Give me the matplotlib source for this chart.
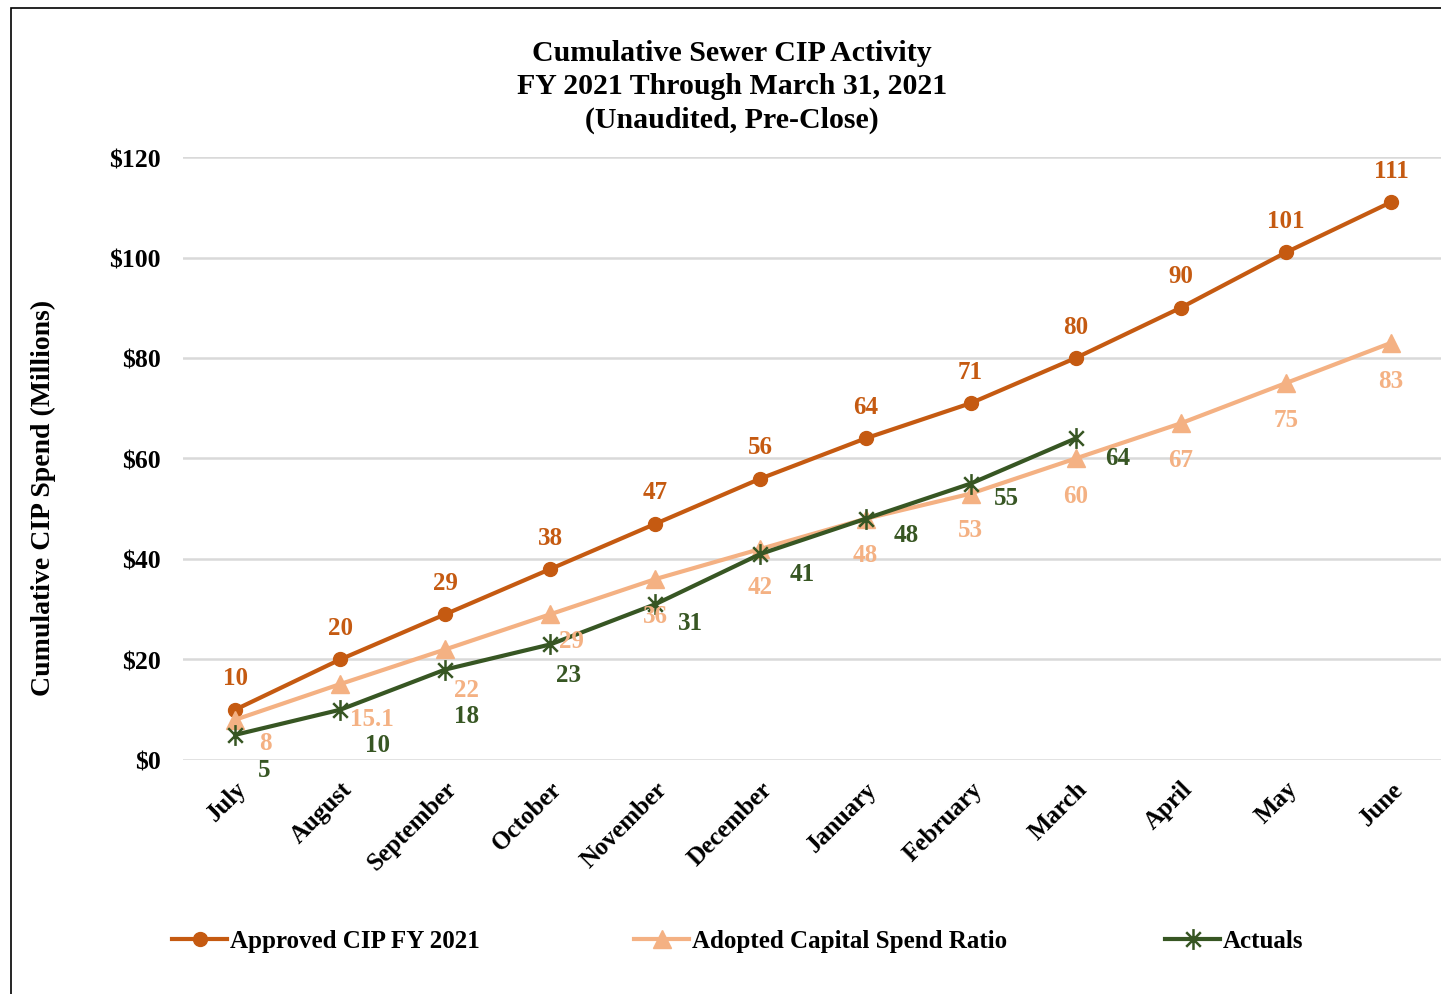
import matplotlib
matplotlib.use('Agg')
import matplotlib.pyplot as plt
from matplotlib.path import Path
from matplotlib.patches import Rectangle

plt.rcParams['font.family'] = ['Liberation Serif', 'DejaVu Serif']
plt.rcParams['font.weight'] = 'bold'

months = ['July', 'August', 'September', 'October', 'November', 'December',
          'January', 'February', 'March', 'April', 'May', 'June']
approved = [10, 20, 29, 38, 47, 56, 64, 71, 80, 90, 101, 111]
adopted = [8, 15.1, 22, 29, 36, 42, 48, 53, 60, 67, 75, 83]
actuals = [5, 10, 18, 23, 31, 41, 48, 55, 64]
yticks = [0, 20, 40, 60, 80, 100, 120]

c_app = '#C55A11'
c_ado = '#F4B183'
c_act = '#375623'

# label offsets in points (dx, dy), hand placed like the original
ado_off = [(22, -16), (23, -25), (15, -29), (15, -19), (0, -26), (0, -27),
           (0, -26), (0, -26), (0, -27), (0, -26), (0, -26), (0, -27)]
act_off = [(21, -25), (27, -25), (15, -33), (13, -22), (25, -13), (30, -14),
           (29, -11), (26, -10), (30, -14)]

# excel style star: x plus vertical bar
star = Path([(0, -1), (0, 1), (-0.7, -0.7), (0.7, 0.7), (-0.7, 0.7), (0.7, -0.7)],
            [Path.MOVETO, Path.LINETO] * 3)

fig = plt.figure(figsize=(14.41, 9.95), dpi=100, facecolor='white')
ax = fig.add_axes([0.1267, 0.2352, 0.875, 0.606])

x = list(range(len(months)))
ax.plot(x, approved, color=c_app, lw=3, marker='o', ms=10, label='Approved CIP FY 2021')
ax.plot(x, adopted, color=c_ado, lw=3, marker='^', ms=13, label='Adopted Capital Spend Ratio')
ax.plot(x[:len(actuals)], actuals, color=c_act, lw=3, marker=star, ms=15, mew=1.8,
        label='Actuals')

for i, v in enumerate(approved):
    ax.annotate(str(v), (i, v), xytext=(0, 23), textcoords='offset points',
                ha='center', va='center', color=c_app, fontsize=18)
for i, v in enumerate(adopted):
    ax.annotate(str(v), (i, v), xytext=ado_off[i], textcoords='offset points',
                ha='center', va='center', color=c_ado, fontsize=18)
for i, v in enumerate(actuals):
    ax.annotate(str(v), (i, v), xytext=act_off[i], textcoords='offset points',
                ha='center', va='center', color=c_act, fontsize=18)

ax.set_xlim(-0.5, len(months) - 0.5)
ax.set_ylim(0, 120)
ax.set_yticks(yticks)
ax.set_yticklabels(['$%d' % t for t in yticks], fontsize=18.5)
ax.set_xticks(x)
ax.set_xticklabels(months, fontsize=18, rotation=45, ha='right', va='top',
                   rotation_mode='anchor')
ax.tick_params(length=0, pad=16)
ax.tick_params(axis='x', pad=12)
ax.grid(axis='y', color='#D9D9D9', lw=1.8)
ax.set_axisbelow(True)
for s in ax.spines.values():
    s.set_visible(False)

fig.text(0.030, 0.5, 'Cumulative CIP Spend (Millions)', rotation=90,
         ha='center', va='center', fontsize=20)
fig.text(0.508, 1 - 87 / 995, 'Cumulative Sewer CIP Activity\nFY 2021 Through March 31, 2021\n(Unaudited, Pre-Close)',
         ha='center', va='center', fontsize=21.5, linespacing=1.32)

handles, labels = ax.get_legend_handles_labels()
for h, l, xp in zip(handles, labels, [172, 634, 1165]):
    fig.legend([h], [l], loc='center left', bbox_to_anchor=(xp / 1441, 0.0533),
               frameon=False, fontsize=18, handlelength=2.2, handletextpad=0.1,
               borderpad=0, borderaxespad=0)

fig.patches.append(Rectangle((11 / 1441, -0.05), 1.2, 0.991 + 0.05, transform=fig.transFigure,
                             fill=False, edgecolor='black', lw=1.2))

fig.savefig('out.png', dpi=100, facecolor='white')
